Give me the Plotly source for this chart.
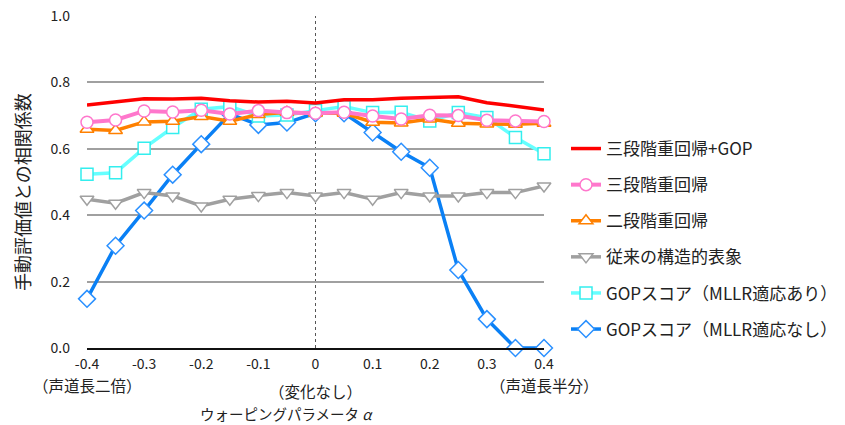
import plotly.graph_objects as go

alpha = [-0.4, -0.35, -0.3, -0.25, -0.2, -0.15, -0.1, -0.05, 0, 0.05, 0.1, 0.15, 0.2, 0.25, 0.3, 0.35, 0.4]

three_stage_gop = [0.732, 0.742, 0.751, 0.750, 0.752, 0.745, 0.741, 0.743, 0.738, 0.748, 0.748, 0.752, 0.755, 0.757, 0.739, 0.729, 0.717]
three_stage = [0.680, 0.687, 0.714, 0.711, 0.716, 0.705, 0.715, 0.709, 0.707, 0.710, 0.699, 0.690, 0.701, 0.700, 0.686, 0.684, 0.682]
two_stage = [0.659, 0.655, 0.681, 0.683, 0.697, 0.683, 0.703, 0.710, 0.707, 0.707, 0.680, 0.678, 0.690, 0.677, 0.675, 0.674, 0.677]
conventional = [0.448, 0.436, 0.468, 0.458, 0.428, 0.448, 0.459, 0.468, 0.458, 0.468, 0.448, 0.468, 0.458, 0.458, 0.468, 0.468, 0.488]
gop_mllr = [0.523, 0.528, 0.602, 0.664, 0.719, 0.727, 0.699, 0.702, 0.715, 0.727, 0.709, 0.710, 0.684, 0.709, 0.694, 0.634, 0.585]
gop_nomllr = [0.148, 0.308, 0.414, 0.522, 0.614, 0.705, 0.672, 0.679, 0.707, 0.707, 0.649, 0.591, 0.543, 0.235, 0.087, 0.0, 0.0]

series_names = ["三段階重回帰+GOP", "三段階重回帰", "二段階重回帰", "従来の構造的表象",
                "GOPスコア（MLLR適応あり）", "GOPスコア（MLLR適応なし）"]

x_tick_vals = [-0.4, -0.3, -0.2, -0.1, 0, 0.1, 0.2, 0.3, 0.4]
x_tick_text = ["-0.4", "-0.3", "-0.2", "-0.1", "0", "0.1", "0.2", "0.3", "0.4"]
y_tick_vals = [0.0, 0.2, 0.4, 0.6, 0.8, 1.0]
sub_labels = [(-0.4, "（声道長二倍）"), (0, "（変化なし）"), (0.4, "（声道長半分）")]

FONT = "Noto Sans CJK JP"

fig = go.Figure()

styles = {
    0: dict(color="#ff0000", width=3.5, symbol=None, mcolor=None),
    1: dict(color="#ff77cc", width=4, symbol="circle", mcolor="#ff77cc"),
    2: dict(color="#ff8000", width=3.5, symbol="triangle-up", mcolor="#ff8000"),
    3: dict(color="#a0a0a0", width=3.5, symbol="triangle-down", mcolor="#a0a0a0"),
    4: dict(color="#66ffff", width=3.5, symbol="square", mcolor="#33eeee"),
    5: dict(color="#0a80f5", width=3.5, symbol="diamond", mcolor="#2a90ff"),
}
data = [three_stage_gop, three_stage, two_stage, conventional, gop_mllr, gop_nomllr]

traces = []
for i, (name, ys) in enumerate(zip(series_names, data)):
    s = styles[i]
    if s["symbol"] is None:
        tr = go.Scatter(x=alpha, y=ys, name=name, mode="lines",
                        line=dict(color=s["color"], width=s["width"]),
                        legendrank=i + 1, legendgroup=f"g{i}", cliponaxis=False)
    else:
        tr = go.Scatter(x=alpha, y=ys, name=name, mode="lines+markers",
                        line=dict(color=s["color"], width=s["width"]),
                        marker=dict(symbol=s["symbol"], size=12 if s["symbol"] != "diamond" else 13,
                                    color="white", line=dict(color=s["mcolor"], width=1.5)),
                        legendrank=i + 1, legendgroup=f"g{i}", cliponaxis=False)
    traces.append(tr)

for tr in reversed(traces):
    fig.add_trace(tr)

fig.add_shape(type="line", xref="x", yref="y", x0=0, x1=0, y0=0, y1=1.0,
              line=dict(color="#555555", width=1, dash="dot"), layer="below")

for xv, txt in sub_labels:
    fig.add_annotation(x=xv, xref="x", y=385 if xv != 0 else 391, yref="paper",
                       text=txt, showarrow=False, font=dict(family=FONT, size=15.5, color="#222222"),
                       yanchor="middle")

PLOT_L, PLOT_R = 87, 544
fig.add_annotation(x=(286 - PLOT_L) / (PLOT_R - PLOT_L), xref="paper", y=413, yref="paper",
                   text="ウォーピングパラメータ <i>α</i>",
                   showarrow=False, font=dict(family=FONT, size=14.5, color="#222222"), yanchor="middle")

fig.add_annotation(x=0.0, xref="paper", xanchor="center", xshift=-65, y=0.47, yref="paper",
                   text="手動評価値との相関係数", textangle=-90, showarrow=False,
                   font=dict(family=FONT, size=18, color="#222222"))

# convert pixel y positions to paper coords
PLOT_TOP, PLOT_BOT = 16, 348
for ann in fig.layout.annotations:
    if ann.y is not None and ann.y > 1.5:
        ann.y = (PLOT_BOT - ann.y) / (PLOT_BOT - PLOT_TOP)

fig.update_layout(
    width=845, height=425,
    margin=dict(l=87, r=301, t=16, b=77, autoexpand=False),
    plot_bgcolor="white", paper_bgcolor="white",
    font=dict(family=FONT, size=14, color="#222222"),
    showlegend=True,
    legend=dict(x=566 / 845, xanchor="left", xref="container", y=1 - 131 / 425, yanchor="top", yref="container",
                font=dict(family=FONT, size=17, color="#222222"), maxheight=400,
                tracegroupgap=11, traceorder="grouped", itemwidth=30, bgcolor="rgba(0,0,0,0)"),
    xaxis=dict(range=[-0.4, 0.4], tickvals=x_tick_vals, ticktext=x_tick_text,
               showgrid=False, zeroline=False, showline=True, linecolor="#111111", linewidth=1.5,
               ticks="", tickfont=dict(family=FONT, size=14), automargin=False, ticklabelstandoff=2),
    yaxis=dict(range=[0, 1.0], tickvals=y_tick_vals, tickformat=".1f",
               showgrid=True, gridcolor="#a0a0a0", gridwidth=1.5, zeroline=False,
               showline=False, ticks="", tickfont=dict(family=FONT, size=14), automargin=False,
               ticklabelstandoff=16),
)

fig.write_html("out.html", config={"displayModeBar": False},
               post_script="document.body.style.margin='0';document.body.style.padding='0';")
